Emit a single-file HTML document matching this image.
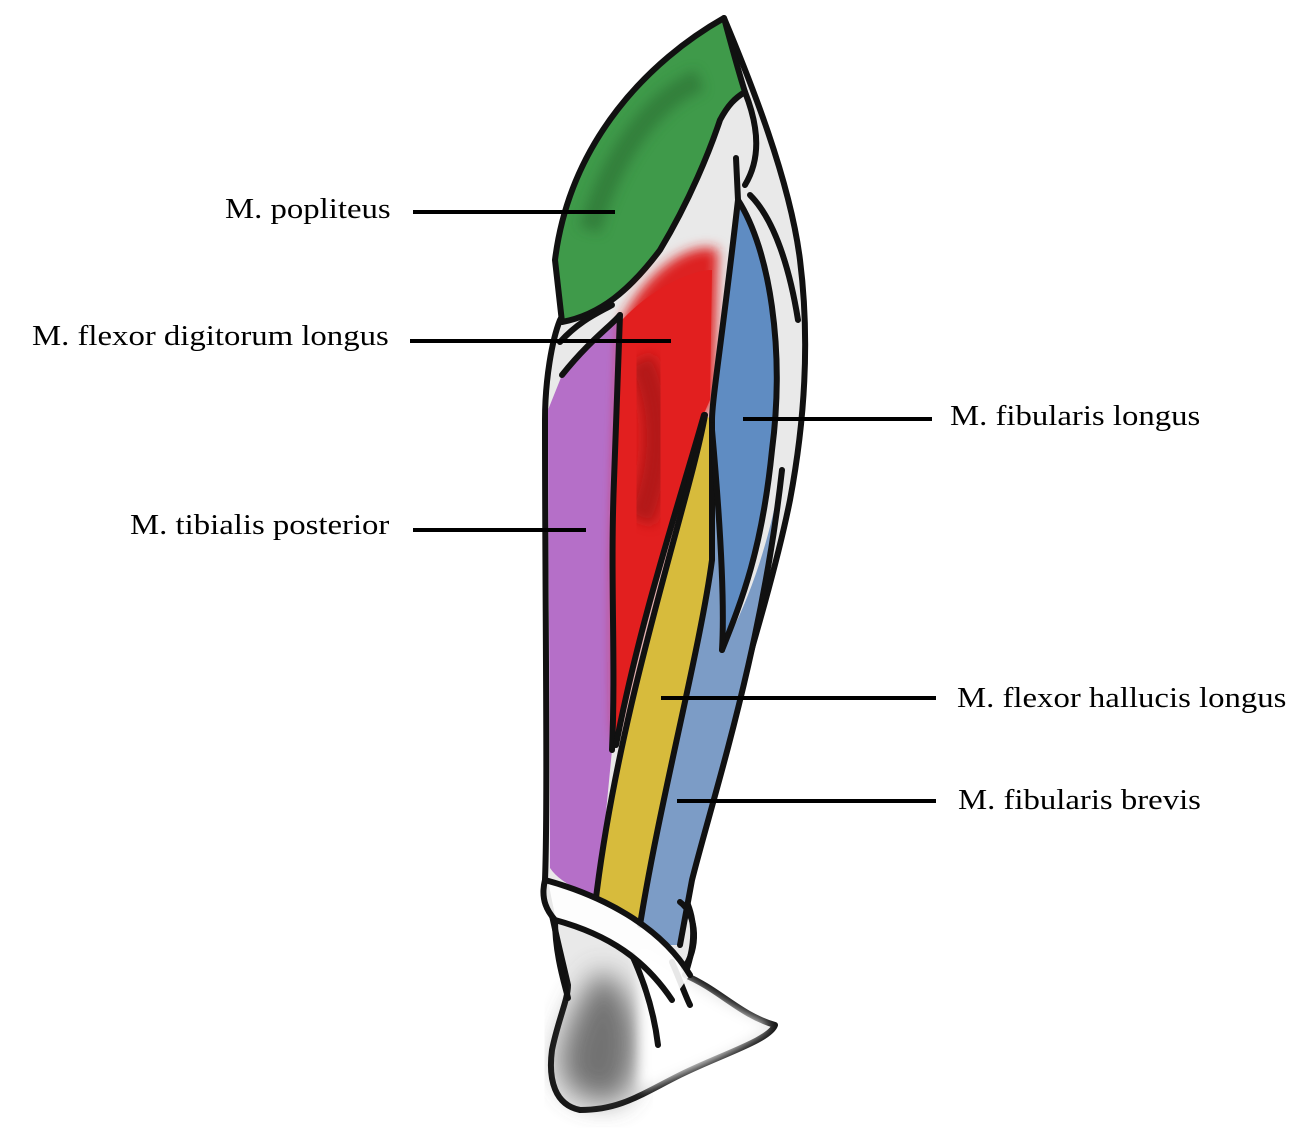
<!DOCTYPE html>
<html><head><meta charset="utf-8"><style>
html,body{margin:0;padding:0;background:#fff;}
body{width:1304px;height:1148px;position:relative;overflow:hidden;font-family:"Liberation Serif",serif;}
.l{position:absolute;font-size:28px;color:#000;white-space:nowrap;line-height:1;transform:scaleX(1.17);transform-origin:0 0;}
</style></head><body>
<svg width="1304" height="1148" style="position:absolute;left:0;top:0">
<defs>
<filter id="b" x="-20%" y="-20%" width="140%" height="140%"><feGaussianBlur stdDeviation="6"/></filter>
<filter id="b2" x="-20%" y="-20%" width="140%" height="140%"><feGaussianBlur stdDeviation="14"/></filter>
</defs>
<path d="M724,18 C750,80 790,180 800,260 C810,340 805,420 790,500 C770,600 720,750 700,830 L686,900 C700,930 690,960 685,975 C720,990 740,1015 775,1025 C770,1040 720,1055 680,1075 C640,1095 620,1110 580,1110 C555,1105 548,1080 552,1050 C558,1020 568,1000 568,985 C560,950 552,920 545,880 C548,800 545,600 545,420 C545,380 552,340 560,320 Z" fill="#e9e9e9" stroke="#111" stroke-width="6" stroke-linejoin="round"/>
<path d="M600,970 C640,990 650,1060 620,1100 C590,1105 560,1095 560,1060 C565,1020 585,990 600,970 Z" fill="#555" filter="url(#b2)" opacity="0.8"/>
<path d="M640,950 C700,990 740,1015 770,1025 C740,1050 690,1070 640,1090 Z" fill="#fff" filter="url(#b)"/>
<path d="M724,18 C650,60 570,140 555,260 L562,322 C600,315 630,290 660,250 C690,200 710,150 720,120 C728,105 735,98 745,92 C738,70 730,40 724,18 Z" fill="#3f9a4a" stroke="#111" stroke-width="6" stroke-linejoin="round"/>
<path d="M700,80 C650,100 610,160 590,230" stroke="#2a6e33" stroke-width="22" fill="none" filter="url(#b)" opacity="0.6"/>
<path d="M562,375 C590,340 612,325 618,318 L614,480 C610,580 616,660 612,750 L598,895 C575,890 558,880 550,868 C550,700 548,520 548,410 Z" fill="#b56fc8"/>
<path d="M622,320 C650,265 695,240 718,250 L714,400 L704,415 C680,500 640,620 616,745 C612,600 616,450 622,320 Z" fill="#dd2222" filter="url(#b)"/>
<path d="M622,320 C650,290 690,270 712,270 L710,400 L702,418 C680,500 640,620 616,745 C612,600 616,450 622,320 Z" fill="#e21f1f"/>
<path d="M640,360 C660,400 665,460 640,520" stroke="#a01818" stroke-width="28" fill="none" filter="url(#b)" opacity="0.7"/>
<path d="M705,415 C690,500 620,700 595,900 L640,925 C660,800 700,650 712,560 L712,420 Z" fill="#d7bb3c"/>
<path d="M738,200 C770,250 785,350 772,450 C762,550 742,600 722,650 C716,560 716,480 712,420 C722,340 732,260 738,200 Z" fill="#5f8cc2"/>
<path d="M712,430 C720,520 725,600 722,650 C750,600 770,540 782,470 C762,650 712,800 692,880 L680,945 L662,945 L640,925 C660,800 700,650 712,560 Z" fill="#7c9cc6"/>
<g stroke="#111" stroke-width="6" fill="none" stroke-linecap="round" stroke-linejoin="round">
<path d="M562,375 C590,340 612,325 620,315"/>
<path d="M620,315 L614,480 C610,580 616,660 612,750"/>
<path d="M704,415 C680,500 640,620 616,745"/>
<path d="M705,415 C690,500 620,700 596,898"/>
<path d="M712,420 L712,560 C700,650 660,800 640,925"/>
<path d="M736,158 L738,200 C770,250 785,350 772,450 C762,550 742,600 722,650"/>
<path d="M738,200 C722,340 712,400 712,420"/>
<path d="M712,430 C720,520 725,600 722,650"/>
<path d="M782,470 C762,650 712,800 692,880 L680,945"/>
<path d="M750,195 C775,220 790,270 798,320"/>
<path d="M745,92 C760,130 760,160 745,185"/>
<path d="M560,342 C580,320 600,312 612,305"/>
<path d="M555,920 C555,955 565,985 568,998"/>
<path d="M632,955 C648,990 655,1020 658,1045"/>
<path d="M672,962 C680,980 685,995 690,1005"/>
<path d="M680,902 C698,915 698,950 684,968"/>
</g>
<path d="M545,880 C600,895 660,925 690,975 L672,1000 C645,960 610,935 555,920 C548,912 540,900 545,880 Z" fill="#fff" opacity="0.9"/>
<g stroke="#111" stroke-width="6" fill="none" stroke-linecap="round">
<path d="M545,880 C600,895 660,925 690,975 M555,920 C610,935 645,960 672,1000 M545,880 C540,900 548,912 555,920"/>
</g>
<g stroke="#000" stroke-width="4">
<line x1="413" y1="212" x2="615" y2="212"/>
<line x1="410" y1="341" x2="671" y2="341"/>
<line x1="413" y1="530" x2="586" y2="530"/>
<line x1="743" y1="419" x2="932" y2="419"/>
<line x1="661" y1="698" x2="936" y2="698"/>
<line x1="677" y1="801" x2="936" y2="801"/>
</g>
</svg>
<div class="l" style="left:225px;top:196px">M. popliteus</div>
<div class="l" style="left:32px;top:323px">M. flexor digitorum longus</div>
<div class="l" style="left:130px;top:512px">M. tibialis posterior</div>
<div class="l" style="left:950px;top:403px">M. fibularis longus</div>
<div class="l" style="left:957px;top:685px">M. flexor hallucis longus</div>
<div class="l" style="left:958px;top:787px">M. fibularis brevis</div>
</body></html>
